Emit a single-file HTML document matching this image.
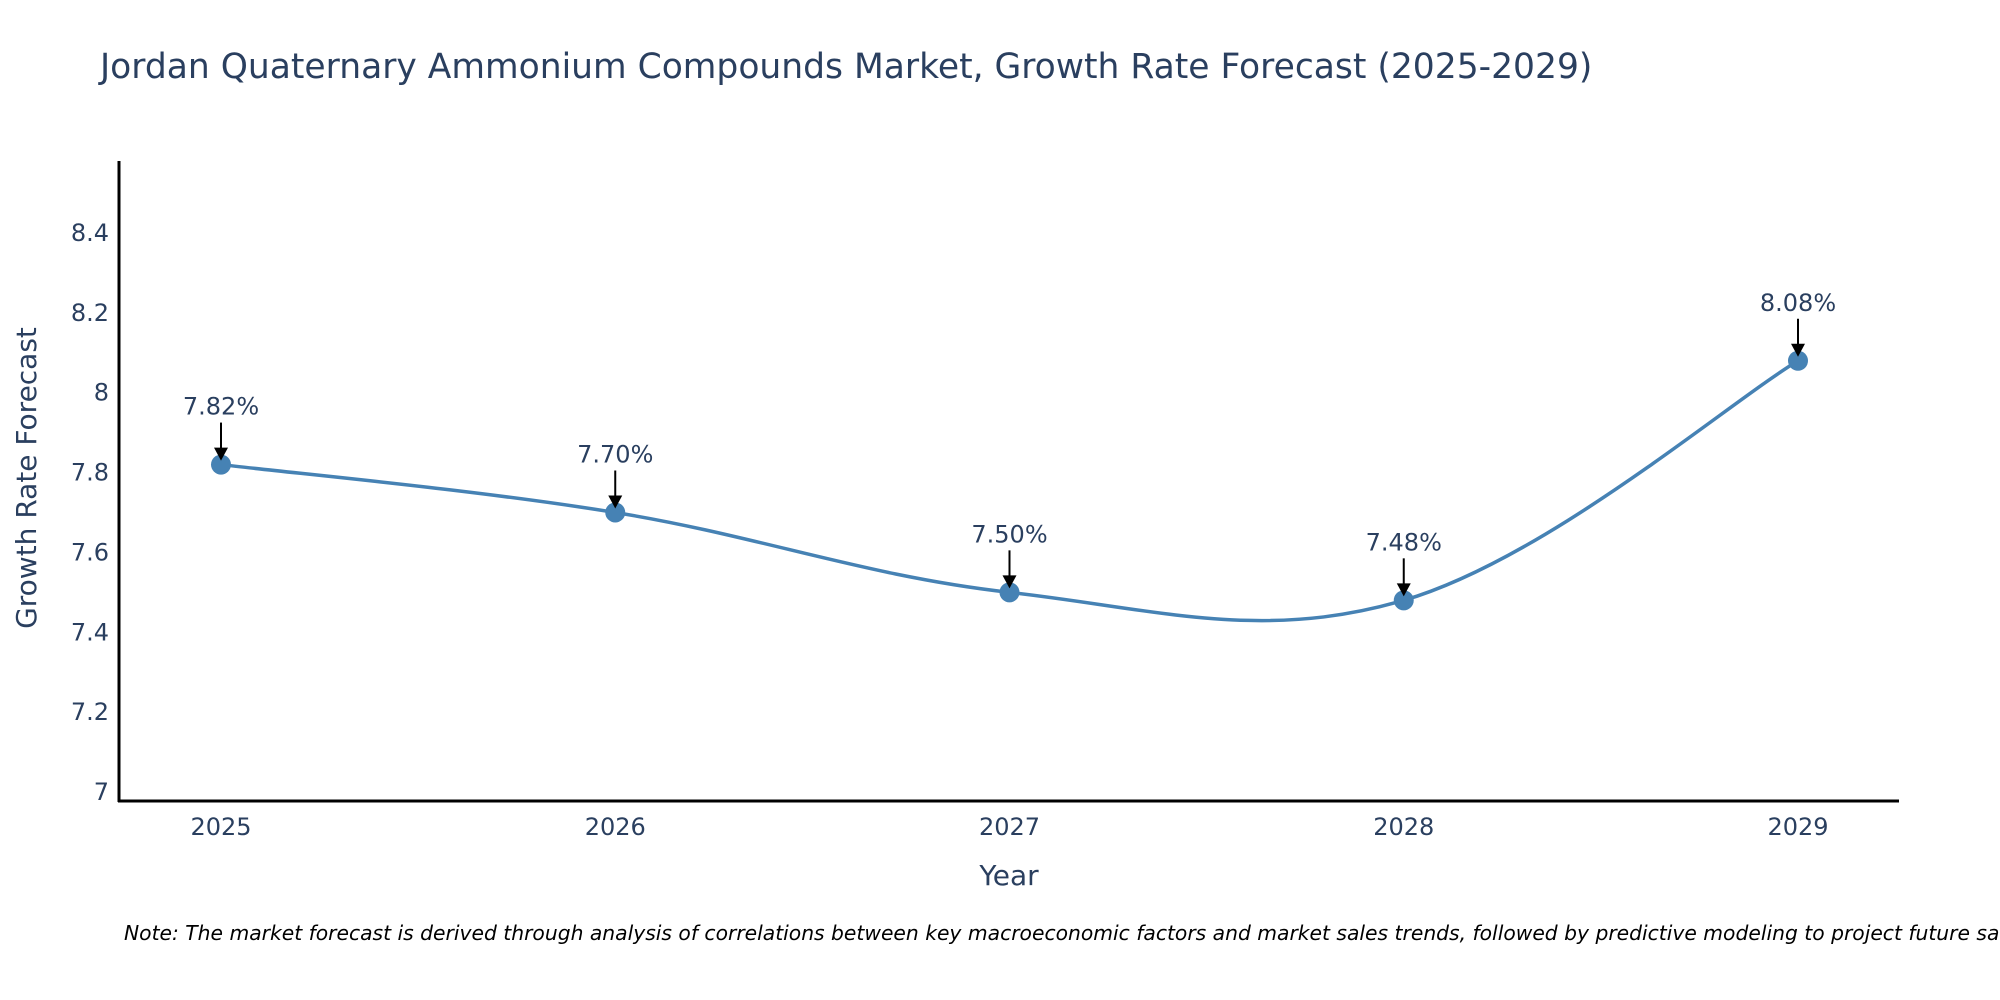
<!DOCTYPE html>
<html><head><meta charset="utf-8"><style>
html,body{margin:0;padding:0;background:#fff;}
svg{display:block;font-family:"DejaVu Sans","Liberation Sans",sans-serif;}
</style></head><body>
<svg id="chart" width="2000" height="1000" viewBox="0 0 2000 1000">
<text x="100" y="78" font-size="34.5" fill="#2a3f5f">Jordan Quaternary Ammonium Compounds Market, Growth Rate Forecast (2025-2029)</text>
<g id="yticks"></g>
<g id="xticks"></g>
<path id="line" fill="none" stroke="#4682B4" stroke-width="3.5"></path>
<g id="points"></g>
<g id="annots"></g>
<line x1="119" y1="161" x2="119" y2="802" stroke="#000" stroke-width="3"/>
<line x1="118" y1="801" x2="1899" y2="801" stroke="#000" stroke-width="3"/>
<text x="1009" y="885" font-size="28" fill="#2a3f5f" text-anchor="middle">Year</text>
<text transform="translate(36,478) rotate(-90)" font-size="28" fill="#2a3f5f" text-anchor="middle">Growth Rate Forecast</text>
<text x="124" y="940" font-size="20.3" font-style="italic" fill="#000">Note: The market forecast is derived through analysis of correlations between key macroeconomic factors and market sales trends, followed by predictive modeling to project future sales.</text>
</svg>
<script>
const years = ["2025","2026","2027","2028","2029"];
const values = [7.82, 7.70, 7.50, 7.48, 8.08];
const labels = ["7.82%","7.70%","7.50%","7.48%","8.08%"];
const yTicks = [7, 7.2, 7.4, 7.6, 7.8, 8, 8.2, 8.4];
const yTickLabels = ["7","7.2","7.4","7.6","7.8","8","8.2","8.4"];

const NS = "http://www.w3.org/2000/svg";
const xScale = i => 221 + i * 394.25;
const yScale = v => 792 - (v - 7) * 399.3;
function mk(tag, attrs, parent){const e=document.createElementNS(NS,tag);for(const k in attrs)e.setAttribute(k,attrs[k]);parent.appendChild(e);return e;}

const yt = document.getElementById('yticks');
yTicks.forEach((v,i)=>{
  const t = mk('text',{x:109,y:yScale(v)+8,'font-size':24,fill:'#2a3f5f','text-anchor':'end'},yt);
  
  
  t.textContent = yTickLabels[i];
});
const xt = document.getElementById('xticks');
years.forEach((y,i)=>{
  const t = mk('text',{x:xScale(i),y:835,'font-size':24,fill:'#2a3f5f','text-anchor':'middle'},xt);
  
  
  t.textContent = y;
});

const pts = values.map((v,i)=>[xScale(i), yScale(v)]);
let d = `M${pts[0][0]},${pts[0][1]}`;
for(let i=0;i<pts.length-1;i++){
  const p0=pts[Math.max(i-1,0)], p1=pts[i], p2=pts[i+1], p3=pts[Math.min(i+2,pts.length-1)];
  const k=1/5.5;
  const c1=[p1[0]+(p2[0]-p0[0])*k, p1[1]+(p2[1]-p0[1])*k];
  const c2=[p2[0]-(p3[0]-p1[0])*k, p2[1]-(p3[1]-p1[1])*k];
  d += ` C${c1[0]},${c1[1]} ${c2[0]},${c2[1]} ${p2[0]},${p2[1]}`;
}
document.getElementById('line').setAttribute('d', d);

const pg = document.getElementById('points');
const ag = document.getElementById('annots');
pts.forEach((p,i)=>{
  const c = mk('circle',{cx:p[0],cy:p[1],r:10,fill:'#4682B4'},pg);
  
  
  const l = mk('line',{x1:p[0],y1:p[1]-42,x2:p[0],y2:p[1]-16,stroke:'#000','stroke-width':2},ag);
  
  
  const h = mk('polygon',{points:`${p[0]-7},${p[1]-17} ${p[0]+7},${p[1]-17} ${p[0]},${p[1]-4}`,fill:'#000'},ag);
  
  
  const t = mk('text',{x:p[0],y:p[1]-50,'font-size':24,fill:'#2a3f5f','text-anchor':'middle'},ag);
  
  
  t.textContent = labels[i];
});
</script>
</body></html>
